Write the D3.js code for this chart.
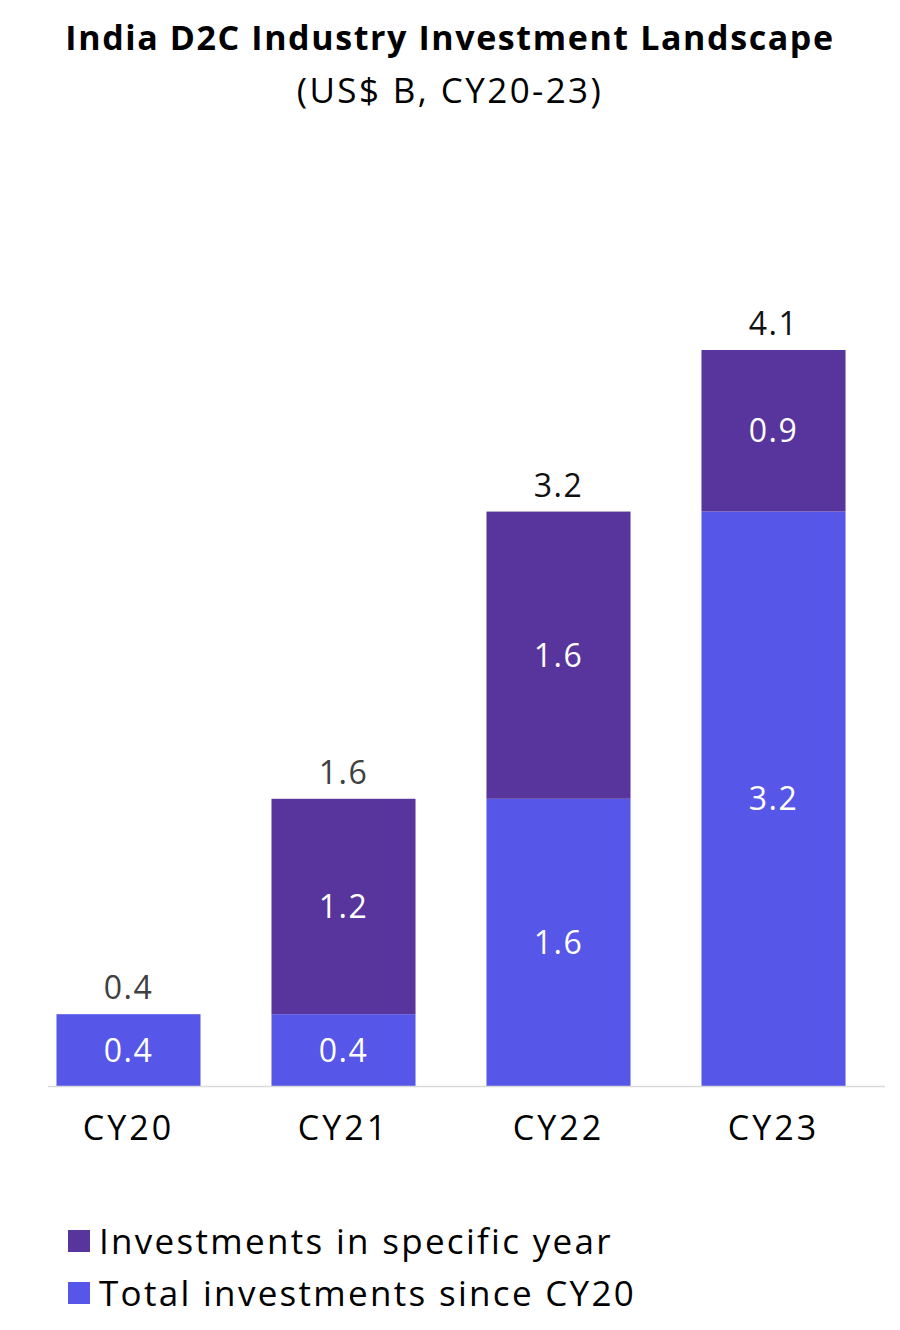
<!DOCTYPE html>
<html><head><meta charset="utf-8">
<script src="https://cdn.jsdelivr.net/npm/d3@7"></script>
<style>body{margin:0;background:#fff;} svg{display:block;}</style>
</head><body>
<svg id="c" width="900" height="1330"></svg>
<script>
const categories = ["CY20", "CY21", "CY22", "CY23"];
const totalSince = [0.4, 0.4, 1.6, 3.2];      // "Total investments since CY20" (blue, bottom)
const specificYear = [0, 1.2, 1.6, 0.9];      // "Investments in specific year" (purple, top)
const totals = [0.4, 1.6, 3.2, 4.1];
const seriesNames = ["Investments in specific year", "Total investments since CY20"];

const FONT = "'Open Sans', sans-serif";
const PURPLE = "#57359c", BLUE = "#5656e8";
const svg = d3.select("#c");

const x = d3.scaleBand().domain(categories).range([21, 881]).paddingInner(0.33).paddingOuter(0.165);
const y = d3.scaleLinear().domain([0, 4.1]).range([1086, 350]);

// title
svg.append("text").attr("x", 450).attr("y", 50).attr("text-anchor", "middle")
  .attr("font-family", FONT).attr("font-weight", 700).attr("font-size", 34)
  .attr("letter-spacing", 1.6).attr("fill", "#000")
  .text("India D2C Industry Investment Landscape");
svg.append("text").attr("x", 450).attr("y", 103).attr("text-anchor", "middle")
  .attr("font-family", FONT).attr("font-size", 35).attr("letter-spacing", 2.4).attr("fill", "#000")
  .text("(US$ B, CY20-23)");

const data = categories.map((c, i) => ({c, base: totalSince[i], top: specificYear[i], total: totals[i]}));

// blue segments
svg.append("g").selectAll("rect").data(data).join("rect")
  .attr("x", d => x(d.c)).attr("width", x.bandwidth())
  .attr("y", d => y(d.base)).attr("height", d => y(0) - y(d.base))
  .attr("fill", BLUE);
// purple segments
svg.append("g").selectAll("rect").data(data.filter(d => d.top > 0)).join("rect")
  .attr("x", d => x(d.c)).attr("width", x.bandwidth())
  .attr("y", d => y(d.base + d.top)).attr("height", d => y(d.base) - y(d.base + d.top))
  .attr("fill", PURPLE);

// axis line
svg.append("line").attr("x1", 48).attr("x2", 885).attr("y1", y(0) + 0.5).attr("y2", y(0) + 0.5)
  .attr("stroke", "#d9d9d9").attr("stroke-width", 1.5);

// inside labels
const lbl = svg.append("g").attr("font-family", FONT).attr("font-size", 32)
  .attr("letter-spacing", 1.5).attr("text-anchor", "middle").attr("fill", "#fff");
lbl.selectAll("text.b").data(data).join("text").attr("class", "b")
  .attr("x", d => x(d.c) + x.bandwidth() / 2)
  .attr("y", d => (y(0) + y(d.base)) / 2).attr("dy", "0.36em")
  .text(d => d.base.toFixed(1));
lbl.selectAll("text.p").data(data.filter(d => d.top > 0)).join("text").attr("class", "p")
  .attr("x", d => x(d.c) + x.bandwidth() / 2)
  .attr("y", d => (y(d.base) + y(d.base + d.top)) / 2).attr("dy", "0.36em")
  .text(d => d.top.toFixed(1));

// total labels
svg.append("g").selectAll("text").data(data).join("text")
  .attr("x", d => x(d.c) + x.bandwidth() / 2).attr("y", d => y(d.total) - 15)
  .attr("text-anchor", "middle").attr("font-family", FONT).attr("font-size", 32)
  .attr("letter-spacing", 1.5)
  .attr("fill", (d, i) => i < 2 ? "#404040" : "#111")
  .text(d => d.total.toFixed(1));

// x axis labels
const xAxis = d3.axisBottom(x).tickSize(0).tickPadding(0);
const gx = svg.append("g").attr("transform", `translate(0,${y(0)})`).call(xAxis);
gx.select(".domain").remove();
gx.selectAll("text").attr("font-family", FONT).attr("font-size", 34).attr("letter-spacing", 3)
  .attr("fill", "#000").attr("y", 54).attr("dy", 0);

// legend
const legColors = [PURPLE, BLUE];
const leg = svg.append("g").selectAll("g").data(seriesNames).join("g")
  .attr("transform", (d, i) => `translate(68,${1241 + i * 52})`);
leg.append("rect").attr("x", 0).attr("y", -11).attr("width", 22).attr("height", 22)
  .attr("fill", (d, i) => legColors[i]);
leg.append("text").attr("x", 31).attr("y", 0).attr("dy", "0.36em")
  .attr("font-family", FONT).attr("font-size", 35).attr("letter-spacing", 2.3)
  .attr("fill", "#000").text(d => d);
</script>
</body></html>
